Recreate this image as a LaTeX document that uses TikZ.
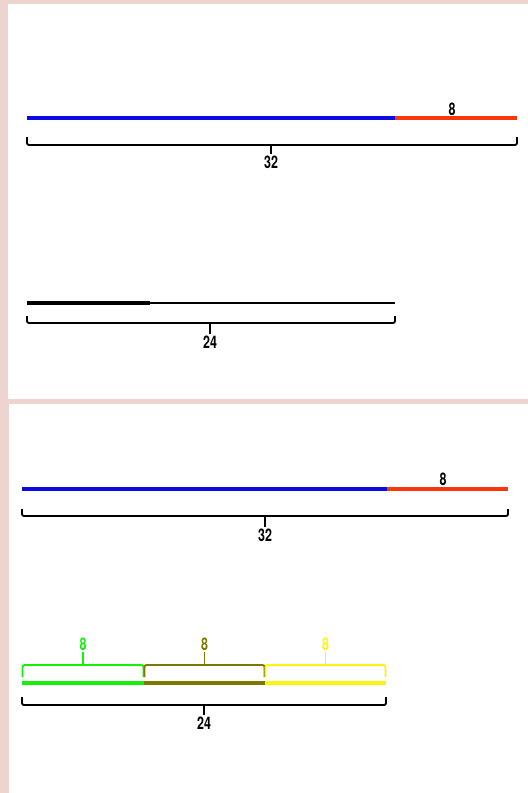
\documentclass[tikz,border=0pt]{standalone}
\usepackage{fontspec}
\setsansfont{TeX Gyre Heros}
\usetikzlibrary{positioning}
\definecolor{panelpink}{RGB}{237,212,207}
\definecolor{barblue}{RGB}{10,10,225}
\definecolor{barred}{RGB}{250,55,10}
\definecolor{bargreen}{RGB}{20,240,10}
\definecolor{barolive}{RGB}{125,120,0}
\definecolor{baryellow}{RGB}{250,245,10}
\newcommand{\numtxt}[1]{\scalebox{0.72}[1]{#1}}
\begin{document}
\begin{tikzpicture}[x=0.75pt,y=-0.75pt,
  num/.style={font=\sffamily\bfseries\fontsize{13}{14}\selectfont,inner sep=1pt},
  bar/.style={line width=2.4pt},
  brace/.style={line width=1.4pt,rounded corners=1.5pt},
  tick/.style={line width=1.4pt}]
% panels
\fill[panelpink] (0,0) rectangle (528,793);
\fill[white] (8,4) rectangle (528,399);
\fill[white] (9,404) rectangle (528,793);
% top panel, whole line
\coordinate (ta) at (27,118); \coordinate (tb) at (395,118); \coordinate (tc) at (517,118);
\draw[bar,barblue] (ta) -- (tb);
\draw[bar,barred] (tb) -- (tc);
\node[num] (t8) at (452,109) {\numtxt{8}};
\draw[brace] (27,137) -- (27,145) -- (517,145) -- (517,137);
\node[num] (t32) at (271,162) {\numtxt{32}};
\draw[tick] (271,145) -- (t32.north);
% top panel, short line
\coordinate (sa) at (27,303); \coordinate (sb) at (150,303); \coordinate (sc) at (395,303);
\draw[line width=1.6pt] (sa) -- (sc);
\draw[line width=2.4pt] (sa) -- (sb);
\draw[brace] (27,316) -- (27,323) -- (395,323) -- (395,316);
\node[num] (t24) at (210,342) {\numtxt{24}};
\draw[tick] (210,323) -- (t24.north);
% bottom panel, whole line
\coordinate (ba) at (22,489); \coordinate (bb) at (387,489); \coordinate (bc) at (508,489);
\draw[bar,barblue] (ba) -- (bb);
\draw[bar,barred] (bb) -- (bc);
\node[num] (b8) at (443,479) {\numtxt{8}};
\draw[brace] (22,509) -- (22,516) -- (508,516) -- (508,509);
\node[num] (b32) at (265,535) {\numtxt{32}};
\draw[tick] (265,516) -- (b32.north);
% bottom panel, three pieces
\foreach \xa/\xb/\c/\nm in {22/144/bargreen/g,144/265/barolive/o,265/386/baryellow/y} {
  \draw[bar,\c] (\xa,683) -- (\xb,683);
  \draw[brace,\c] (\xa+0.5,677) -- (\xa+0.5,665) -- (\xb-0.5,665) -- (\xb-0.5,677);
  \node[num,text=\c] (p\nm) at ({(\xa+\xb)/2},644) {\numtxt{8}};
  \draw[tick,\c] ({(\xa+\xb)/2},665) -- (p\nm.south);
}
\draw[brace] (22,697) -- (22,705) -- (386,705) -- (386,697);
\node[num] (b24) at (204,723) {\numtxt{24}};
\draw[tick] (204,705) -- (b24.north);
\end{tikzpicture}
\end{document}
